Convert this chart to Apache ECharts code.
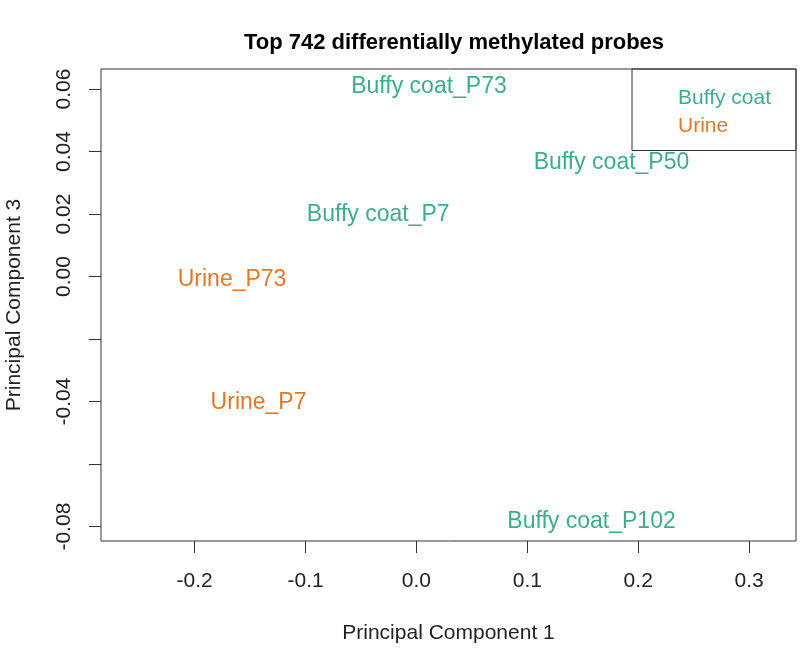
<!DOCTYPE html>
<html>
<head>
<meta charset="utf-8">
<script src="https://cdn.jsdelivr.net/npm/echarts@6/dist/echarts.min.js"></script>
<style>html,body{margin:0;padding:0;background:#fff}#c{width:800px;height:650px}</style>
</head>
<body>
<div id="c"></div>
<script>
// ---- data ----
const sampleLabels = ['Buffy coat_P73', 'Buffy coat_P50', 'Buffy coat_P7', 'Urine_P73', 'Urine_P7', 'Buffy coat_P102'];
const sampleGroup  = ['Buffy coat', 'Buffy coat', 'Buffy coat', 'Urine', 'Urine', 'Buffy coat'];
const pc1Values    = [0.0113, 0.1759, -0.0345, -0.1663, -0.1424, 0.1579];
const pc3Values    = [0.0608, 0.0364, 0.0198, -0.0009, -0.0402, -0.0783];
const groupNames   = ['Buffy coat', 'Urine'];
const groupColors  = ['#1B9E77', '#D95F02'];
const xTickValues  = [-0.2, -0.1, 0.0, 0.1, 0.2, 0.3];
const yTickValues  = [-0.08, -0.06, -0.04, -0.02, 0.00, 0.02, 0.04, 0.06];
const yLabelValues = [-0.08, -0.04, 0.00, 0.02, 0.04, 0.06];

const FONT = '"Liberation Sans", Arial, sans-serif';
const chart = echarts.init(document.getElementById('c'), null, {renderer: 'canvas'});

function fade(hex, a) {
  const n = parseInt(hex.slice(1), 16);
  return 'rgba(' + (n >> 16) + ',' + ((n >> 8) & 255) + ',' + (n & 255) + ',' + a + ')';
}

const series = groupNames.map((g, gi) => ({
  name: g,
  type: 'scatter',
  symbol: 'circle',
  symbolSize: 0,
  itemStyle: {color: groupColors[gi], opacity: 0.85},
  label: {
    show: true,
    position: 'inside',
    formatter: p => p.data[2],
    color: groupColors[gi],
    fontFamily: FONT,
    fontSize: 23
  },
  emphasis: {disabled: true},
  data: sampleLabels.map((l, i) => [pc1Values[i], pc3Values[i], l, sampleGroup[i]])
        .filter(d => d[3] === g)
}));

chart.setOption({
  animation: false,
  backgroundColor: '#fff',
  title: {
    text: 'Top 742 differentially methylated probes',
    left: 449,
    top: 27,
    textAlign: 'center',
    textStyle: {fontFamily: FONT, fontWeight: 'bold', fontSize: 22, color: '#000'}
  },
  grid: {
    left: 101, right: 4, top: 69, bottom: 109,
    containLabel: false,
    outerBoundsMode: 'none',
    show: true, borderColor: '#333', borderWidth: 1, backgroundColor: 'transparent'
  },
  legend: {
    data: groupNames.map((g, gi) => ({name: g, icon: 'none', textStyle: {color: fade(groupColors[gi], 0.85)}})),
    orient: 'vertical',
    left: 632, top: 69,
    itemWidth: 0, itemHeight: 22, itemGap: 6.5,
    padding: [18, 25, 14, 41],
    borderColor: '#333', borderWidth: 1,
    selectedMode: false,
    textStyle: {fontFamily: FONT, fontSize: 21}
  },
  xAxis: {
    type: 'value',
    min: -0.2845, max: 0.3423,
    name: 'Principal Component 1',
    nameLocation: 'middle',
    nameGap: 82,
    nameTextStyle: {fontFamily: FONT, fontSize: 21, color: '#222'},
    axisLine: {show: false, onZero: false},
    splitLine: {show: false},
    axisTick: {show: true, length: 12, customValues: xTickValues, lineStyle: {color: '#333'}},
    axisLabel: {
      customValues: xTickValues, margin: 30,
      formatter: v => v.toFixed(1),
      fontFamily: FONT, fontSize: 21, color: '#222'
    }
  },
  yAxis: {
    type: 'value',
    min: -0.0846, max: 0.0664,
    name: 'Principal Component 3',
    nameLocation: 'middle',
    nameGap: 76,
    nameRotate: 90,
    nameTextStyle: {fontFamily: FONT, fontSize: 21, color: '#222'},
    axisLine: {show: false, onZero: false},
    splitLine: {show: false},
    axisTick: {show: true, length: 12, customValues: yTickValues, lineStyle: {color: '#333'}},
    axisLabel: {
      customValues: yLabelValues, margin: 26, rotate: 90,
      formatter: v => v.toFixed(2),
      fontFamily: FONT, fontSize: 21, color: '#222'
    }
  },
  series: series
});
</script>
</body>
</html>
